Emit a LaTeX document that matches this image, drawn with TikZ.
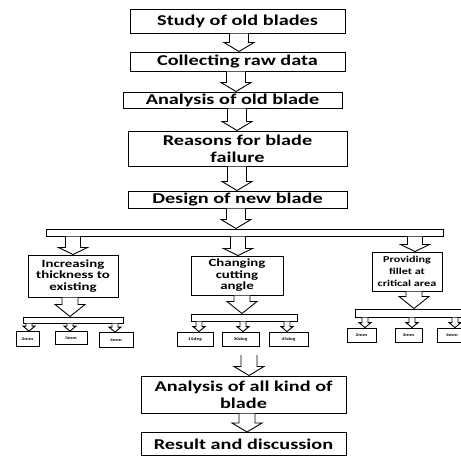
\documentclass[tikz,border=0pt]{standalone}
\usepackage{fontspec}
\setmainfont{Carlito}[FakeStretch=1.35]
\usetikzlibrary{calc}

\tikzset{
  box/.style={draw,line width=1pt,fill=white,inner sep=0pt,align=center,font=\bfseries\fontsize{15}{17}\selectfont},
  midbox/.style={box,font=\bfseries\fontsize{11}{11.5}\selectfont},
  smallbox/.style={box,font=\bfseries\fontsize{9}{12}\selectfont},
  tinybox/.style={box,line width=.8pt,font=\bfseries\fontsize{4}{5}\selectfont},
  bar/.style={draw,line width=1pt,fill=white,inner sep=0pt},
  wh/.style 2 args={minimum width=#1pt,minimum height=#2pt},
  hollow/.style={draw,line width=.9pt,fill=white}
}
% hollow down arrow: x, from, to, half shaft, half head, head length
\newcommand\harrow[6]{\draw[hollow] let \p0=(#1,0), \p1=(#2), \p2=(#3) in
  (\x0-#4pt,\y1)--(\x0-#4pt,\y2+#6pt)--(\x0-#5pt,\y2+#6pt)--(\x0,\y2)--(\x0+#5pt,\y2+#6pt)--(\x0+#4pt,\y2+#6pt)--(\x0+#4pt,\y1);}

\begin{document}
\begin{tikzpicture}[x=1pt,y=-1pt]
\clip (0,0) rectangle (461,456);
\fill[white] (0,0) rectangle (461,456);
% main column
\node[box,wh={215}{24}] (study) at (237.5,21){Study of old blades};
\node[box,wh={215}{19}] (collect) at (237.5,61.5){Collecting raw data};
\node[box,wh={219}{16}] (oldanal) at (232.5,100){Analysis of old blade};
\node[box,wh={219}{35}] (reasons) at (237.5,148.5){Reasons for blade\\failure};
\node[box,wh={219}{17}] (design) at (237.5,199.5){Design of new blade};
\node[bar,wh={397}{7}] (split) at (244.5,232.5){};
% three ways
\node[midbox,wh={90}{42}] (thick) at (73,276){Increasing\\thickness to\\existing};
\node[midbox,wh={92}{39}] (angle) at (237,275.5){Changing\\cutting\\angle};
\node[smallbox,wh={70}{39}] (fillet) at (407,271.5){Providing\\fillet at\\critical area};
\node[bar,wh={100}{6}] (splitA) at (73,320){};
\node[bar,wh={106}{7}] (splitB) at (244,317.5){};
\node[bar,wh={110}{8}] (splitC) at (410,313){};
\node[tinybox,wh={23}{15}] (a2) at (27.5,339){2mm};
\node[tinybox,wh={32}{13}] (a3) at (71,338){3mm};
\node[tinybox,wh={34}{15}] (a4) at (116,340){4mm};
\node[tinybox,wh={36}{14}] (b15) at (195,339){15deg};
\node[tinybox,wh={37}{14}] (b30) at (240.5,339){30deg};
\node[tinybox,wh={39}{14}] (b45) at (288.5,339){45deg};
\node[tinybox,wh={29}{14}] (c2) at (361.5,335){2mm};
\node[tinybox,wh={27}{14}] (c3) at (408.5,335){3mm};
\node[tinybox,wh={30}{14}] (c4) at (452,335){4mm};
% bottom
\coordinate (join) at (249,355);
\node[box,wh={205}{37}] (allkind) at (243.5,394.5){Analysis of all kind of\\blade};
\node[box,wh={205}{23}] (result) at (243.5,444){Result and discussion};
% arrows
\harrow{239}{study.south}{collect.north}{9.5}{15}{9}
\harrow{236}{collect.south}{oldanal.north}{9.5}{15}{9}
\harrow{237}{oldanal.south}{reasons.north}{9.5}{15}{9}
\harrow{237}{reasons.south}{design.north}{9.5}{15}{9}
\harrow{236}{design.south}{split.north}{9.5}{15}{9}
\foreach \xa/\nd in {73/thick,238/angle,415/fillet}{\harrow{\xa}{split.south}{\nd.north}{7.5}{14.5}{7}}
\harrow{70}{thick.south}{splitA.north}{8}{15}{12}
\harrow{242}{angle.south}{splitB.north}{8}{15}{12}
\harrow{414}{fillet.south}{splitC.north}{8}{15}{12}
\foreach \xa/\bb/\nd in {29/splitA/a2,70/splitA/a3,115/splitA/a4,199/splitB/b15,243/splitB/b30,287/splitB/b45,365/splitC/c2,412/splitC/c3,455/splitC/c4}
  {\harrow{\xa}{\bb.south}{\nd.north}{3}{6}{5}}
\harrow{249}{join}{allkind.north}{8}{15}{9}
\harrow{247}{allkind.south}{result.north}{8}{15}{9}
\end{tikzpicture}
\end{document}
